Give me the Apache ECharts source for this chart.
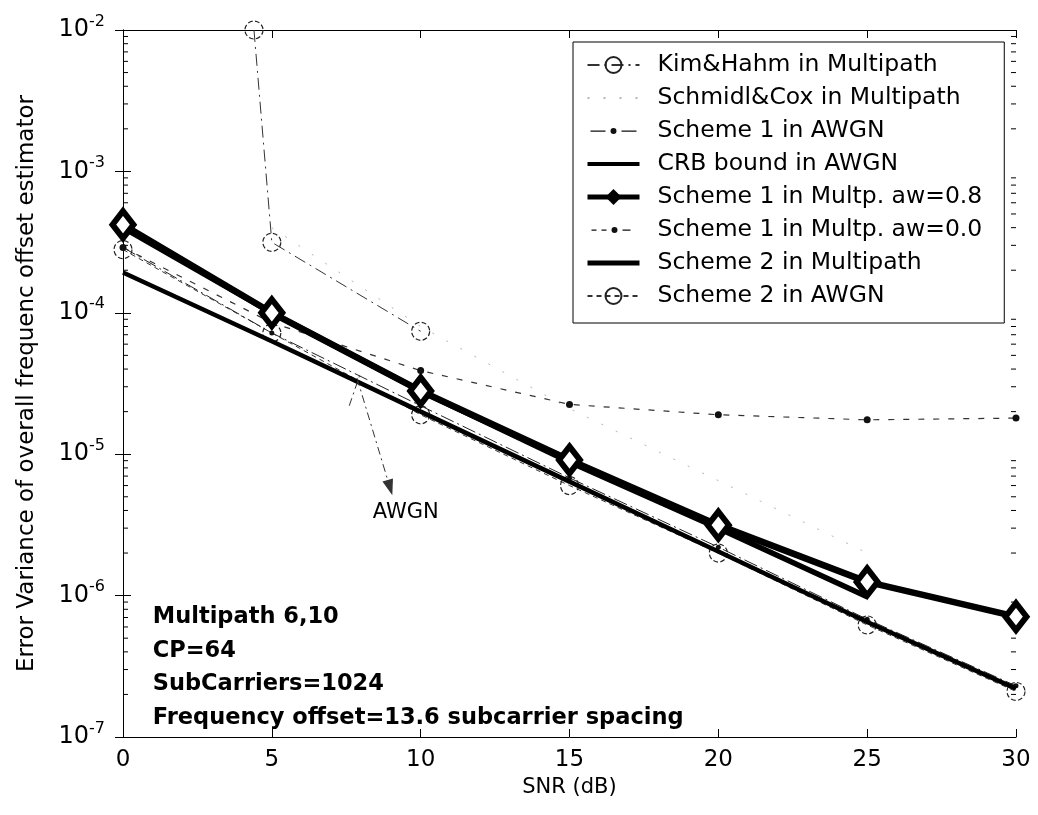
<!DOCTYPE html>
<html>
<head>
<meta charset="utf-8">
<script src="https://cdn.jsdelivr.net/npm/echarts@6/dist/echarts.min.js"></script>
<style>
  html, body { margin: 0; padding: 0; background: #fff; }
  #main { width: 1038px; height: 815px; }
</style>
</head>
<body>
<div id="main"></div>
<script>
// SNR (dB) grid and the curves
var snr = [0, 5, 10, 15, 20, 25, 30];
var kimHahm = [[4.4, 1e-2], [5, 3.15e-4], [10, 7.4e-5]];
var schmidlCox = [[5, 4.0e-4], [10, 8.0e-5], [15, 2.1e-5], [20, 6.5e-6], [25, 2.0e-6]];
var scheme1Awgn = [2.9e-4, 7.2e-5, 2.2e-5, 6.8e-6, 2.2e-6, 6.8e-7, 2.3e-7];
var crbAwgn = [1.93e-4, 6.3e-5, 2.0e-5, 6.4e-6, 2.05e-6, 6.5e-7, 2.2e-7];
var scheme1Aw08 = [4.2e-4, 1.0e-4, 2.8e-5, 9.1e-6, 3.15e-6, 1.25e-6, 7.1e-7];
var scheme1Aw00 = [2.9e-4, 8.5e-5, 3.9e-5, 2.25e-5, 1.9e-5, 1.75e-5, 1.8e-5];
var scheme2Multi = [4.0e-4, 1.0e-4, 2.8e-5, 8.8e-6, 3.0e-6, 9.8e-7];
var scheme2Awgn = [2.8e-4, 7.2e-5, 1.9e-5, 6.0e-6, 2.0e-6, 6.2e-7, 2.1e-7];

var legendNames = ['Kim&Hahm in Multipath', 'Schmidl&Cox in Multipath', 'Scheme 1 in AWGN',
  'CRB bound in AWGN', 'Scheme 1 in Multp. aw=0.8', 'Scheme 1 in Multp. aw=0.0',
  'Scheme 2 in Multipath', 'Scheme 2 in AWGN'];
var infoLines = ['Multipath 6,10', 'CP=64', 'SubCarriers=1024', 'Frequency offset=13.6 subcarrier spacing'];

// minor ticks of the log axis (2..9 in each decade)
var minorMantissa = [2, 3, 4, 5, 6, 7, 8, 9];
var decadeStarts = [1e-7, 1e-6, 1e-5, 1e-4, 1e-3];

var minorTicks = [];
decadeStarts.forEach(function (d) {
  minorMantissa.forEach(function (m) { minorTicks.push([0, m * d]); });
});

function pairs(ys) {
  return ys.map(function (v, i) { return [snr[i], v]; });
}

var FONT = 'DejaVu Sans';
var chart = echarts.init(document.getElementById('main'), null, { renderer: 'canvas' });

var circleStyle = { color: 'rgba(0,0,0,0)', borderColor: '#222', borderWidth: 1.2, borderType: 'dashed' };

// legend icons: keep the corners so the 52x20 box is not stretched
var corners = 'M0,0h0.01v0.01h-0.01z M51.99,19.99h0.01v0.01h-0.01z ';
var iconDashDot = 'path://' + corners +
  'M3,9.5h15v1.2h-15z M23,10a3,3 0 1,0 6,0a3,3 0 1,0 -6,0z M34,9.5h15v1.2h-15z';
var iconDashed = 'path://' + corners +
  'M4,9.5h5v1.2h-5z M14,9.5h5v1.2h-5z M24,10a3,3 0 1,0 6,0a3,3 0 1,0 -6,0z M35,9.5h8v1.2h-8z';

var legendData = legendNames.map(function (n) { return { name: n }; });
legendData[1].itemStyle = { opacity: 0 };
legendData[2].icon = iconDashDot;
legendData[3].itemStyle = { opacity: 0 };
legendData[3].lineStyle = { width: 4 };
legendData[4].itemStyle = { color: '#000', borderWidth: 0 };
legendData[4].lineStyle = { width: 5 };
legendData[5].icon = iconDashed;
legendData[6].itemStyle = { opacity: 0 };
legendData[6].lineStyle = { width: 5 };

var option = {
  backgroundColor: '#fff',
  animation: false,
  grid: { left: 123, right: 22, top: 30, bottom: 78 },
  legend: {
    data: legendData,
    orient: 'vertical',
    left: 573,
    top: 42,
    padding: [11, 22, 15, 12],
    itemGap: 9,
    itemWidth: 52,
    itemHeight: 20,
    backgroundColor: '#fff',
    borderColor: '#000',
    borderWidth: 1,
    selectedMode: false,
    textStyle: { fontFamily: FONT, fontSize: 23.5, color: '#000', padding: [0, 0, 0, 13] }
  },
  xAxis: [{
    type: 'value', min: 0, max: 30, interval: 5,
    name: 'SNR (dB)', nameLocation: 'middle', nameGap: 30,
    nameTextStyle: { fontFamily: FONT, fontSize: 21, color: '#000' },
    axisLine: { lineStyle: { color: '#000', width: 1 } },
    axisTick: { inside: true, length: 8, lineStyle: { color: '#000' } },
    axisLabel: { fontFamily: FONT, fontSize: 23, color: '#000', margin: 12 },
    splitLine: { show: false }
  }, {
    type: 'value', min: 0, max: 30, interval: 5, position: 'top',
    axisLine: { lineStyle: { color: '#000', width: 1 } },
    axisTick: { inside: true, length: 8, lineStyle: { color: '#000' } },
    axisLabel: { show: false },
    splitLine: { show: false }
  }],
  yAxis: [{
    type: 'log', logBase: 10, min: 1e-7, max: 1e-2,
    name: 'Error Variance of overall frequenc offset estimator',
    nameLocation: 'middle', nameGap: 84,
    nameTextStyle: { fontFamily: FONT, fontSize: 23, color: '#000' },
    axisLine: { show: true, lineStyle: { color: '#000', width: 1 } },
    axisTick: { inside: true, length: 8, lineStyle: { color: '#000' } },
    axisLabel: {
      margin: 18,
      formatter: function (v) {
        var e = Math.round(Math.log10(v));
        return '{b|10}{s|' + e + '}';
      },
      rich: {
        b: { fontFamily: FONT, fontSize: 24, color: '#000' },
        s: { fontFamily: FONT, fontSize: 16, color: '#000', padding: [0, 0, 17, 0] }
      }
    },
    splitLine: { show: false }
  }, {
    type: 'log', logBase: 10, min: 1e-7, max: 1e-2, position: 'right',
    axisLine: { show: true, lineStyle: { color: '#000', width: 1 } },
    axisTick: { inside: true, length: 8, lineStyle: { color: '#000' } },
    axisLabel: { show: false },
    splitLine: { show: false }
  }],
  series: [
    {
      name: 'Kim&Hahm in Multipath', type: 'line', data: kimHahm, z: 3,
      symbol: 'circle', symbolSize: 18, itemStyle: circleStyle,
      lineStyle: { color: '#333', width: 1, type: [12, 5, 2, 5] }
    },
    {
      name: 'Schmidl&Cox in Multipath', type: 'line', data: schmidlCox, z: 2,
      symbol: 'none',
      itemStyle: { color: '#999' },
      lineStyle: { color: '#b5b5b5', width: 1, type: [2, 14] }
    },
    {
      name: 'Scheme 1 in AWGN', type: 'line', data: pairs(scheme1Awgn), z: 3,
      symbol: 'circle', symbolSize: 5,
      itemStyle: { color: '#111' },
      lineStyle: { color: '#222', width: 1, type: [14, 4, 2, 4] },
      markLine: {
        silent: true,
        symbol: ['none', 'triangle'],
        symbolSize: [11, 16],
        label: { show: false },
        lineStyle: { color: '#333', width: 1, type: [8, 4, 2, 4] },
        data: [
          [{ coord: [7.86, 3.46e-5] }, { coord: [8.97, 5.8e-6] }],
          [{ coord: [7.6, 2.2e-5] }, { coord: [7.95, 3.6e-5], symbol: 'none' }]
        ]
      }
    },
    {
      name: 'CRB bound in AWGN', type: 'line', data: pairs(crbAwgn), z: 4,
      symbol: 'none',
      itemStyle: { color: '#000' },
      lineStyle: { color: '#000', width: 4.5 }
    },
    {
      name: 'Scheme 1 in Multp. aw=0.8', type: 'line', data: pairs(scheme1Aw08), z: 6,
      symbol: 'diamond', symbolSize: [21, 27],
      itemStyle: { color: '#fff', borderColor: '#000', borderWidth: 6 },
      lineStyle: { color: '#000', width: 6.5 }
    },
    {
      name: 'Scheme 1 in Multp. aw=0.0', type: 'line', data: pairs(scheme1Aw00), z: 3,
      symbol: 'circle', symbolSize: 7,
      itemStyle: { color: '#111' },
      lineStyle: { color: '#333', width: 1.2, type: [6, 9] }
    },
    {
      name: 'Scheme 2 in Multipath', type: 'line', data: pairs(scheme2Multi), z: 5,
      symbol: 'none',
      itemStyle: { color: '#000' },
      lineStyle: { color: '#000', width: 5.5 }
    },
    {
      name: 'Scheme 2 in AWGN', type: 'line', data: pairs(scheme2Awgn), z: 3,
      symbol: 'circle', symbolSize: 18, itemStyle: circleStyle,
      lineStyle: { color: '#333', width: 1, type: [5, 4] }
    },
    {
      type: 'custom', data: minorTicks, silent: true, z: 1,
      renderItem: function (params, api) {
        var v = api.value(1);
        var pl = api.coord([0, v]);
        var pr = api.coord([30, v]);
        return {
          type: 'group',
          children: [
            { type: 'line', shape: { x1: pl[0], y1: pl[1], x2: pl[0] + 5, y2: pl[1] }, style: { stroke: '#000', lineWidth: 1 } },
            { type: 'line', shape: { x1: pr[0] - 5, y1: pr[1], x2: pr[0], y2: pr[1] }, style: { stroke: '#000', lineWidth: 1 } }
          ]
        };
      }
    }
  ]
};

chart.setOption(option);

// annotation text and the info block, placed through the axes' scales
var awgnPos = chart.convertToPixel({ xAxisIndex: 0, yAxisIndex: 0 }, [9.5, 3.85e-6]);
var infoPos = chart.convertToPixel({ xAxisIndex: 0, yAxisIndex: 0 }, [1.0, 0.92e-6]);

chart.setOption({
  graphic: [
    {
      type: 'text', x: awgnPos[0], y: awgnPos[1],
      style: { text: 'AWGN', font: '21px "DejaVu Sans"', fill: '#000', align: 'center', verticalAlign: 'middle' }
    },
    {
      type: 'text', x: infoPos[0], y: infoPos[1],
      style: {
        text: infoLines.join('\n'), font: 'bold 22.5px "DejaVu Sans"', fill: '#000',
        lineHeight: 33.5, align: 'left', verticalAlign: 'top'
      }
    }
  ]
});
</script>
</body>
</html>
